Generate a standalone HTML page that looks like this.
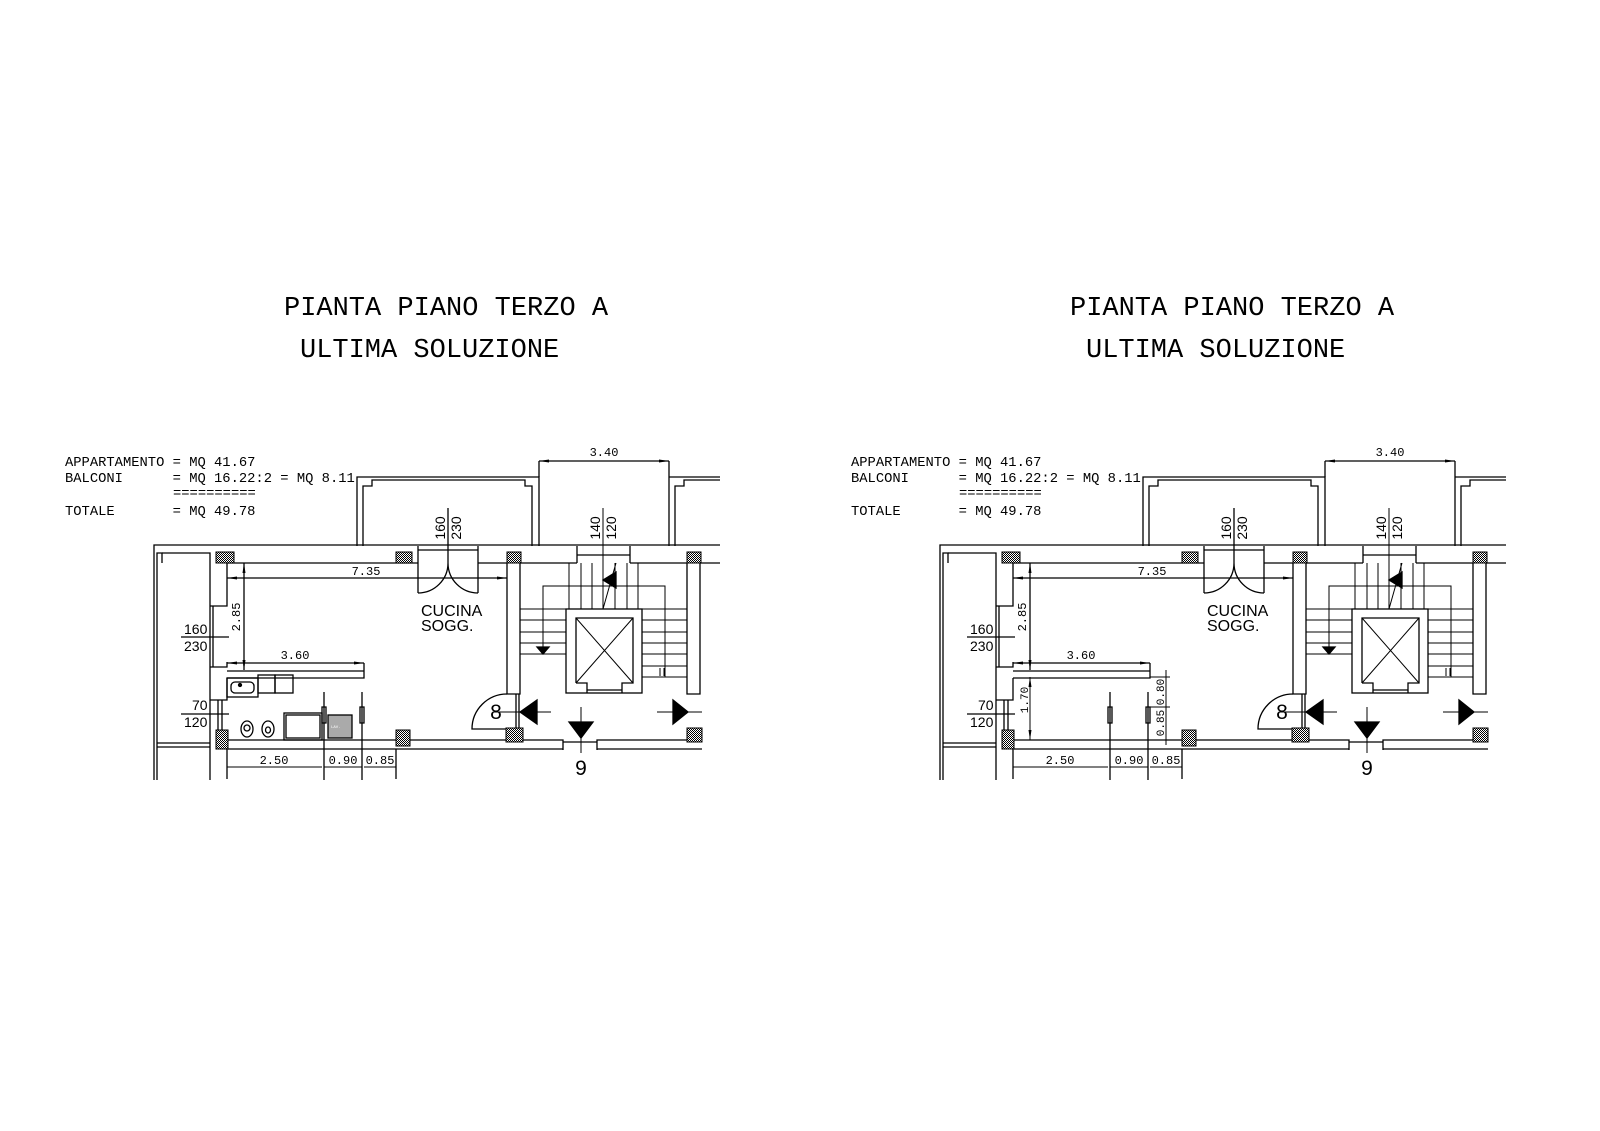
<!DOCTYPE html>
<html><head><meta charset="utf-8"><style>
html,body{margin:0;padding:0;background:#fff;}
svg{display:block;}
text{font-family:"Liberation Mono",monospace;fill:#000;}
.pre text{white-space:pre;}
.s{font-family:"Liberation Sans",sans-serif;}
</style></head><body>
<svg width="1600" height="1131" viewBox="0 0 1600 1131" xmlns="http://www.w3.org/2000/svg">
<defs>
<pattern id="h" width="2" height="2" patternUnits="userSpaceOnUse"><rect width="2" height="2" fill="#fff"/><rect width="1" height="1" fill="#000"/><rect x="1" y="1" width="1" height="1" fill="#000"/></pattern>
<marker id="a" viewBox="0 0 10 6" refX="10" refY="3" markerWidth="10" markerHeight="6" orient="auto-start-reverse" markerUnits="userSpaceOnUse"><path d="M0 1.5 L10 3 L0 4.5z" fill="#000"/></marker>
<g id="plan" fill="none" stroke="#000" stroke-width="1.3">
  <path d="M154 780 V545 H720"/>
  <path d="M157 780 V553 H162 V563"/>
  <path d="M162 553 H210 V780"/>
  <path d="M157 743 H210 M157 747 H210"/>
  <path d="M227 563 H418 M478 563 H507 M520 563 H577 M630 563 H687 M700 563 H720"/>
  <path d="M577 546 V563 M630 546 V563 M577 555 H630"/>
  <path d="M227 563 V606 H210 M213 606 V667 M210 667 H227 V662 M227 678 V700 H210 M218 700 V730 M222 700 V730"/>
  <path d="M228 740 H563 V750 M228 749 H563 M597 750 V740 H687 M597 749 H702"/>
  <path d="M563 742 H597"/>
  <path d="M357 546 V477 H539 V546 M363 546 V486 H372 V480 H525 V486 H532 V546"/>
  <path d="M539 461 V477 M669 461 V546 M669 477 H720 M675 546 V486 H684 V480 H720"/>
  <path d="M539 461 H669" marker-start="url(#a)" marker-end="url(#a)"/>
  <path d="M418 546 V593 M478 546 V593 M418 550 H478 M418 593 A30 30 0 0 0 448 563 M478 593 A30 30 0 0 1 448 563 M448 508 V563"/>
  <path d="M227 578 H507" marker-start="url(#a)" marker-end="url(#a)"/>
  <path d="M244 563 V670" marker-start="url(#a)" marker-end="url(#a)"/>
  <path d="M181 637 H229 M181 714 H229"/>
  <path d="M227 663 H364" marker-start="url(#a)" marker-end="url(#a)"/>
  <path d="M227 671 H364 V663 M227 678 H364 V671"/>
  <path d="M227 767 H322 M324 767 H362 M364 767 H396" stroke-width="1"/>
  <path d="M227 749 V779 M396 749 V779"/>
  <path d="M324 692 V780 M362 692 V780 M322 707 h4 v16 h-4z M360 707 h4 v16 h-4z"/>
  <path d="M507 563 V694 H520 V563 M687 563 V694 H700 V563"/>
  <path d="M569 563 V609 M581 563 V609 M592 563 V609 M615 563 V609 M627 563 V609 M638 563 V609" stroke-width="1"/>
  <path d="M603 508 V609" stroke-width="1"/>
  <rect x="566" y="609" width="76" height="84"/>
  <path d="M576 683 V618 H633 V683 H622 V693 M576 683 H587 V693 M587 690 H622"/>
  <path d="M576 618 L633 683 M633 618 L576 683" stroke-width="1"/>
  <path d="M520 609 H566 M520 620 H566 M520 632 H566 M520 643 H566 M520 654 H566" stroke-width="1"/>
  <path d="M642 609 H687 M642 620 H687 M642 632 H687 M642 643 H687 M642 654 H687 M642 666 H687 M642 677 H687" stroke-width="1"/>
  <path d="M543 647 V586 H665 V677 M660 668 V676 M664 668 V676 M603 609 L616 563" stroke-width="1"/>
  <path d="M537 647 H549 L543 654z" fill="#000"/>
  <path d="M603 580 L616 572 L616 588z" fill="#000"/>
  <path d="M516 694 V730 M519 694 V730 M507 694 A35 35 0 0 0 472 729 H507"/>
  <path d="M493 712 H551 M657 712 H702 M581 707 V753" stroke-width="1"/>
  <path d="M520 712 L537 700 V724z" fill="#000"/>
  <path d="M688 712 L673 700 V724z" fill="#000"/>
  <path d="M569 722 H593 L581 738z" fill="#000"/>
  <g fill="url(#h)" stroke-width="1">
    <rect x="216" y="552" width="18" height="11"/><rect x="396" y="552" width="16" height="11"/>
    <rect x="507" y="552" width="14" height="11"/><rect x="687" y="552" width="14" height="11"/>
    <rect x="216" y="730" width="12" height="19"/><rect x="396" y="730" width="14" height="16"/>
    <rect x="506" y="728" width="17" height="14"/><rect x="687" y="728" width="15" height="14"/>
  </g>
</g>
</defs>

<use href="#plan"/>
<use href="#plan" transform="translate(786,0)"/>

<g fill="none" stroke="#000" stroke-width="1.3">
  <rect x="227" y="678" width="31" height="19"/>
  <rect x="231" y="682" width="23" height="11" rx="4"/>
  <circle cx="240" cy="685" r="1.5" fill="#000"/>
  <rect x="258" y="675" width="17" height="18"/><rect x="275" y="675" width="18" height="18"/>
  <ellipse cx="247" cy="729" rx="6" ry="8"/><ellipse cx="247" cy="728" rx="3" ry="3"/>
  <ellipse cx="268" cy="729" rx="6" ry="8"/><ellipse cx="268" cy="730" rx="2.5" ry="3"/>
  <rect x="284" y="713" width="38" height="27"/><rect x="286" y="715" width="34" height="23"/>
  <rect x="328" y="715" width="24" height="23" fill="#aaa"/>
</g>
<text x="331" y="728" style="font-size:4px;fill:#fff">LAV.</text>

<g fill="none" stroke="#000" stroke-width="1">
  <path d="M1030 677 V740" marker-start="url(#a)" marker-end="url(#a)"/>
  <path d="M1166 670 V745 M1150 677 H1170 M1150 707 H1170 M1150 740 H1170"/>
</g>
<text transform="translate(1028,700) rotate(-90)" text-anchor="middle" style="font-size:11px">1.70</text>
<text transform="translate(1164,692) rotate(-90)" text-anchor="middle" style="font-size:11px">0.80</text>
<text transform="translate(1164,723) rotate(-90)" text-anchor="middle" style="font-size:11px">0.85</text>

<g style="font-size:27px">
<text x="284" y="315">PIANTA PIANO TERZO A</text>
<text x="300" y="357">ULTIMA SOLUZIONE</text>
<text x="1070" y="315">PIANTA PIANO TERZO A</text>
<text x="1086" y="357">ULTIMA SOLUZIONE</text>
</g>
<g class="pre" style="font-size:13.8px">
<text x="65" y="466">APPARTAMENTO = MQ 41.67</text>
<text x="65" y="482">BALCONI      = MQ 16.22:2 = MQ 8.11</text>
<text x="173" y="497">==========</text>
<text x="65" y="515">TOTALE       = MQ 49.78</text>
<text x="851" y="466">APPARTAMENTO = MQ 41.67</text>
<text x="851" y="482">BALCONI      = MQ 16.22:2 = MQ 8.11</text>
<text x="959" y="497">==========</text>
<text x="851" y="515">TOTALE       = MQ 49.78</text>
</g>

<g style="font-size:12px" text-anchor="middle">
<text x="604" y="456">3.40</text>
<text x="366" y="575">7.35</text>
<text x="295" y="659">3.60</text>
<text x="274" y="764">2.50</text>
<text x="343" y="764">0.90</text>
<text x="380" y="764">0.85</text>
<text transform="translate(240,617) rotate(-90)">2.85</text>
<text x="1390" y="456">3.40</text>
<text x="1152" y="575">7.35</text>
<text x="1081" y="659">3.60</text>
<text x="1060" y="764">2.50</text>
<text x="1129" y="764">0.90</text>
<text x="1166" y="764">0.85</text>
<text transform="translate(1026,617) rotate(-90)">2.85</text>
</g>
<g class="s" style="font-size:14px">
<text class="s" transform="translate(445,528) rotate(-90)" text-anchor="middle">160</text>
<text class="s" transform="translate(461,528) rotate(-90)" text-anchor="middle">230</text>
<text class="s" transform="translate(600,528) rotate(-90)" text-anchor="middle">140</text>
<text class="s" transform="translate(616,528) rotate(-90)" text-anchor="middle">120</text>
<text class="s" x="184" y="634">160</text><text class="s" x="184" y="651">230</text>
<text class="s" x="192" y="710">70</text><text class="s" x="184" y="727">120</text>
<text class="s" transform="translate(1231,528) rotate(-90)" text-anchor="middle">160</text>
<text class="s" transform="translate(1247,528) rotate(-90)" text-anchor="middle">230</text>
<text class="s" transform="translate(1386,528) rotate(-90)" text-anchor="middle">140</text>
<text class="s" transform="translate(1402,528) rotate(-90)" text-anchor="middle">120</text>
<text class="s" x="970" y="634">160</text><text class="s" x="970" y="651">230</text>
<text class="s" x="978" y="710">70</text><text class="s" x="970" y="727">120</text>
</g>
<g class="s" style="font-size:16px">
<text class="s" x="421" y="616">CUCINA</text><text class="s" x="421" y="631">SOGG.</text>
<text class="s" x="1207" y="616">CUCINA</text><text class="s" x="1207" y="631">SOGG.</text>
</g>
<g class="s" style="font-size:21px" text-anchor="middle">
<text class="s" x="496" y="719">8</text><text class="s" x="581" y="775">9</text>
<text class="s" x="1282" y="719">8</text><text class="s" x="1367" y="775">9</text>
</g>
</svg>
</body></html>
